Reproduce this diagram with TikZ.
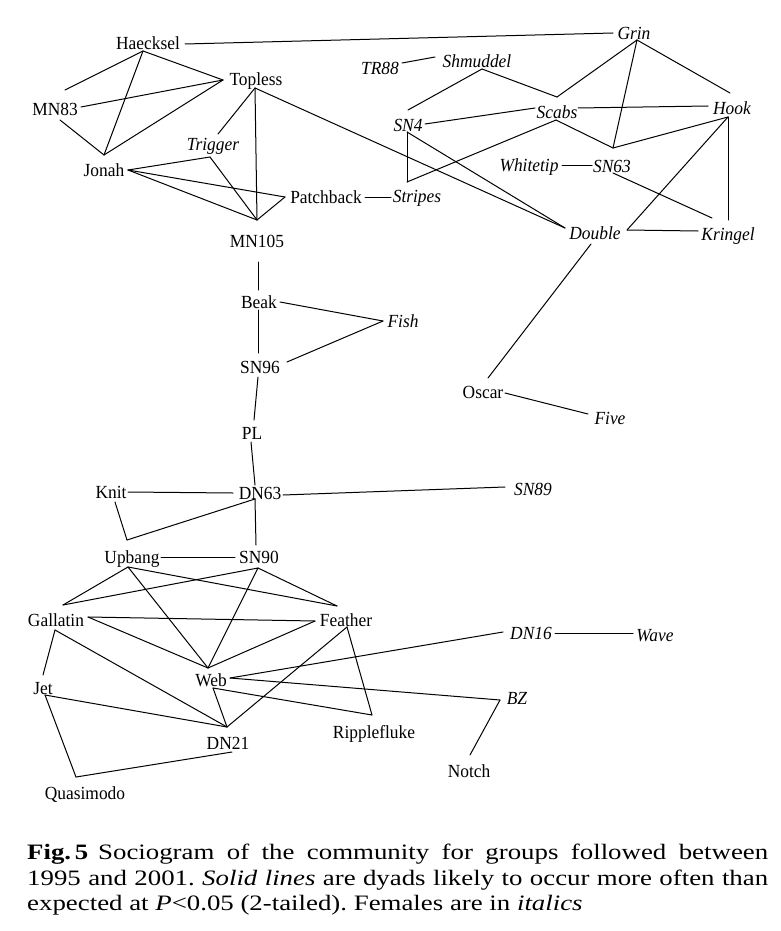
\documentclass[tikz,border=0pt]{standalone}
\usepackage{fontspec}
\setmainfont{Liberation Serif}
\newfontfamily\labelfont{Liberation Serif}[FakeStretch=0.94]
\newfontfamily\captionfont{Liberation Serif}[FakeStretch=1.22]
\usepackage{tikz}

\begin{document}
\begin{tikzpicture}[x=1pt, y=-1pt,
        male/.style={font=\labelfont\fontsize{18.5}{22}\selectfont, inner sep=0pt, text height=12.5pt, text depth=0pt},
        female/.style={male, font=\labelfont\fontsize{18.5}{22}\selectfont\itshape},
        tie/.style={line width=1pt, line cap=round, line join=round},
        caption/.style={font=\captionfont\fontsize{22}{25.5}\selectfont\frenchspacing, text width=741pt, align=justify, inner sep=0pt}
    ]
        \useasboundingbox (0,0) rectangle (781,931);

        % Individuals (males upright, females in italics)
        \node[male] (haecksel) at (148,43) {Haecksel};
        \node[female] (grin) at (634,33) {Grin};
        \node[female] (tr88) at (380,68) {TR88};
        \node[female] (shmuddel) at (477,61) {Shmuddel};
        \node[male] (topless) at (256,79) {Topless};
        \node[male] (mn83) at (55,109) {MN83};
        \node[female] (sn4) at (408,125) {SN4};
        \node[female] (scabs) at (557,112) {Scabs};
        \node[female] (hook) at (732,108) {Hook};
        \node[female] (trigger) at (213,144) {Trigger};
        \node[male] (jonah) at (104,170) {Jonah};
        \node[female] (whitetip) at (529,165) {Whitetip};
        \node[female] (sn63) at (612,166) {SN63};
        \node[male] (patchback) at (326,197) {Patchback};
        \node[female] (stripes) at (417,196) {Stripes};
        \node[female] (double) at (595,233) {Double};
        \node[female] (kringel) at (728,234) {Kringel};
        \node[male] (mn105) at (257,241) {MN105};
        \node[male] (beak) at (259,302) {Beak};
        \node[female] (fish) at (403,321) {Fish};
        \node[male] (sn96) at (260,367) {SN96};
        \node[male] (oscar) at (483,392) {Oscar};
        \node[female] (five) at (610,418) {Five};
        \node[male] (pl) at (252,433) {PL};
        \node[male] (knit) at (111,492) {Knit};
        \node[male] (dn63) at (260,493) {DN63};
        \node[female] (sn89) at (533,489) {SN89};
        \node[male] (upbang) at (132,557) {Upbang};
        \node[male] (sn90) at (259,557) {SN90};
        \node[male] (gallatin) at (56,620) {Gallatin};
        \node[male] (feather) at (346,620) {Feather};
        \node[female] (dn16) at (531,633) {DN16};
        \node[female] (wave) at (655,635) {Wave};
        \node[male] (web) at (211,680) {Web};
        \node[male] (jet) at (43,688) {Jet};
        \node[female] (bz) at (517,698) {BZ};
        \node[male] (ripplefluke) at (374,732) {Ripplefluke};
        \node[male] (dn21) at (228,743) {DN21};
        \node[male] (notch) at (469,771) {Notch};
        \node[male] (quasimodo) at (85,793) {Quasimodo};

        % Line ends round the labels
        \coordinate (haecksel-e) at (185,44);
        \coordinate (haecksel-s) at (143,51);
        \coordinate (grin-w) at (613,33);
        \coordinate (grin-s) at (637,40);
        \coordinate (tr88-e) at (402,63);
        \coordinate (shmuddel-w) at (435,57);
        \coordinate (shmuddel-s) at (482,69);
        \coordinate (topless-w) at (223,80);
        \coordinate (topless-s) at (255,88);
        \coordinate (mn83-ne) at (65,90);
        \coordinate (mn83-e) at (81,107);
        \coordinate (mn83-s) at (60,120);
        \coordinate (jonah-n) at (104,155);
        \coordinate (jonah-e) at (128,170);
        \coordinate (trigger-n) at (218,134);
        \coordinate (trigger-s) at (210,157);
        \coordinate (patchback-w) at (285,197);
        \coordinate (patchback-e) at (365,197);
        \coordinate (stripes-w) at (391,197);
        \coordinate (stripes-n) at (407,182);
        \coordinate (mn105-n) at (257,220);
        \coordinate (mn105-s) at (258,262);
        \coordinate (sn4-n) at (408,110);
        \coordinate (sn4-e) at (425,124);
        \coordinate (sn4-s) at (407,132);
        \coordinate (scabs-n) at (557,97);
        \coordinate (scabs-w) at (535,108);
        \coordinate (scabs-e) at (578,108);
        \coordinate (scabs-s) at (556,120);
        \coordinate (hook-w) at (708,106);
        \coordinate (hook-n) at (730,93);
        \coordinate (hook-s) at (728,117);
        \coordinate (whitetip-e) at (562,165);
        \coordinate (sn63-w) at (592,165);
        \coordinate (sn63-n) at (613,148);
        \coordinate (sn63-s) at (613,173);
        \coordinate (double-w) at (565,228);
        \coordinate (double-e) at (627,230);
        \coordinate (double-s) at (591,244);
        \coordinate (kringel-w) at (698,231);
        \coordinate (kringel-n) at (728,220);
        \coordinate (kringel-nw) at (712,218);
        \coordinate (beak-n) at (258,290);
        \coordinate (beak-e) at (280,302);
        \coordinate (beak-s) at (258,310);
        \coordinate (fish-w) at (383,321);
        \coordinate (sn96-n) at (258,353);
        \coordinate (sn96-e) at (287,362);
        \coordinate (sn96-s) at (258,377);
        \coordinate (pl-n) at (254,420);
        \coordinate (pl-s) at (251,442);
        \coordinate (oscar-n) at (488,378);
        \coordinate (oscar-e) at (505,393);
        \coordinate (five-w) at (588,414);
        \coordinate (dn63-n) at (255,485);
        \coordinate (dn63-w) at (233,493);
        \coordinate (dn63-e) at (283,495);
        \coordinate (dn63-s) at (255,499);
        \coordinate (knit-e) at (128,492);
        \coordinate (knit-s) at (115,502);
        \coordinate (sn89-w) at (505,487);
        \coordinate (upbang-n) at (127,540);
        \coordinate (upbang-e) at (161,557);
        \coordinate (upbang-s) at (128,567);
        \coordinate (sn90-w) at (235,557);
        \coordinate (sn90-n) at (256,545);
        \coordinate (sn90-s) at (258,568);
        \coordinate (gallatin-n) at (63,605);
        \coordinate (gallatin-e) at (88,617);
        \coordinate (gallatin-s) at (55,630);
        \coordinate (feather-n) at (337,606);
        \coordinate (feather-w) at (315,621);
        \coordinate (feather-s) at (347,627);
        \coordinate (web-n) at (208,668);
        \coordinate (web-e) at (230,678);
        \coordinate (web-s) at (213,688);
        \coordinate (dn16-w) at (503,632);
        \coordinate (dn16-e) at (555,633);
        \coordinate (wave-w) at (633,633);
        \coordinate (jet-n) at (43,675);
        \coordinate (jet-e) at (45,695);
        \coordinate (bz-w) at (500,700);
        \coordinate (ripplefluke-n) at (372,715);
        \coordinate (dn21-n) at (227,727);
        \coordinate (dn21-s) at (232,752);
        \coordinate (notch-n) at (470,755);
        \coordinate (quasimodo-n) at (76,777);

        % Dyads
        \draw[tie] (haecksel-e) -- (grin-w);
        \draw[tie] (haecksel-s) -- (mn83-ne);
        \draw[tie] (haecksel-s) -- (topless-w);
        \draw[tie] (haecksel-s) -- (jonah-n);
        \draw[tie] (mn83-e) -- (topless-w);
        \draw[tie] (mn83-s) -- (jonah-n);
        \draw[tie] (jonah-n) -- (topless-w);
        \draw[tie] (topless-s) -- (trigger-n);
        \draw[tie] (topless-s) -- (mn105-n);
        \draw[tie] (topless-s) -- (double-w);
        \draw[tie] (jonah-e) -- (trigger-s);
        \draw[tie] (trigger-s) -- (mn105-n);
        \draw[tie] (jonah-e) -- (patchback-w);
        \draw[tie] (jonah-e) -- (mn105-n);
        \draw[tie] (patchback-w) -- (mn105-n);
        \draw[tie] (patchback-e) -- (stripes-w);
        \draw[tie] (tr88-e) -- (shmuddel-w);
        \draw[tie] (sn4-n) -- (shmuddel-s);
        \draw[tie] (shmuddel-s) -- (scabs-n);
        \draw[tie] (scabs-n) -- (grin-s);
        \draw[tie] (grin-s) -- (sn63-n);
        \draw[tie] (grin-s) -- (hook-n);
        \draw[tie] (sn4-e) -- (scabs-w);
        \draw[tie] (scabs-e) -- (hook-w);
        \draw[tie] (sn4-s) -- (stripes-n);
        \draw[tie] (sn4-s) -- (double-w);
        \draw[tie] (stripes-n) -- (scabs-s);
        \draw[tie] (scabs-s) -- (sn63-n);
        \draw[tie] (sn63-n) -- (hook-s);
        \draw[tie] (whitetip-e) -- (sn63-w);
        \draw[tie] (sn63-s) -- (kringel-nw);
        \draw[tie] (hook-s) -- (double-e);
        \draw[tie] (hook-s) -- (kringel-n);
        \draw[tie] (double-e) -- (kringel-w);
        \draw[tie] (double-s) -- (oscar-n);
        \draw[tie] (oscar-e) -- (five-w);
        \draw[tie] (mn105-s) -- (beak-n);
        \draw[tie] (beak-e) -- (fish-w);
        \draw[tie] (beak-s) -- (sn96-n);
        \draw[tie] (sn96-e) -- (fish-w);
        \draw[tie] (sn96-s) -- (pl-n);
        \draw[tie] (pl-s) -- (dn63-n);
        \draw[tie] (knit-e) -- (dn63-w);
        \draw[tie] (knit-s) -- (upbang-n);
        \draw[tie] (upbang-n) -- (dn63-s);
        \draw[tie] (dn63-e) -- (sn89-w);
        \draw[tie] (dn63-s) -- (sn90-n);
        \draw[tie] (upbang-e) -- (sn90-w);
        \draw[tie] (upbang-s) -- (gallatin-n);
        \draw[tie] (upbang-s) -- (feather-n);
        \draw[tie] (upbang-s) -- (web-n);
        \draw[tie] (sn90-s) -- (gallatin-n);
        \draw[tie] (sn90-s) -- (feather-n);
        \draw[tie] (sn90-s) -- (web-n);
        \draw[tie] (gallatin-e) -- (feather-w);
        \draw[tie] (gallatin-e) -- (web-n);
        \draw[tie] (feather-w) -- (web-n);
        \draw[tie] (gallatin-s) -- (jet-n);
        \draw[tie] (gallatin-s) -- (dn21-n);
        \draw[tie] (feather-s) -- (dn21-n);
        \draw[tie] (feather-s) -- (ripplefluke-n);
        \draw[tie] (web-e) -- (dn16-w);
        \draw[tie] (web-e) -- (bz-w);
        \draw[tie] (web-s) -- (ripplefluke-n);
        \draw[tie] (web-s) -- (dn21-n);
        \draw[tie] (dn16-e) -- (wave-w);
        \draw[tie] (bz-w) -- (notch-n);
        \draw[tie] (jet-e) -- (dn21-n);
        \draw[tie] (jet-e) -- (quasimodo-n);
        \draw[tie] (quasimodo-n) -- (dn21-s);

        % Caption
        \node[caption, anchor=north west] (legend) at (27,844) {\textbf{Fig.\,5}\hspace{0.45em}Sociogram of the community for groups followed between\linebreak 1995 and 2001. \textit{Solid lines} are dyads likely to occur more often than\linebreak expected at \textit{P}<0.05 (2-tailed). Females are in \textit{italics}};

    \end{tikzpicture}
\end{document}
